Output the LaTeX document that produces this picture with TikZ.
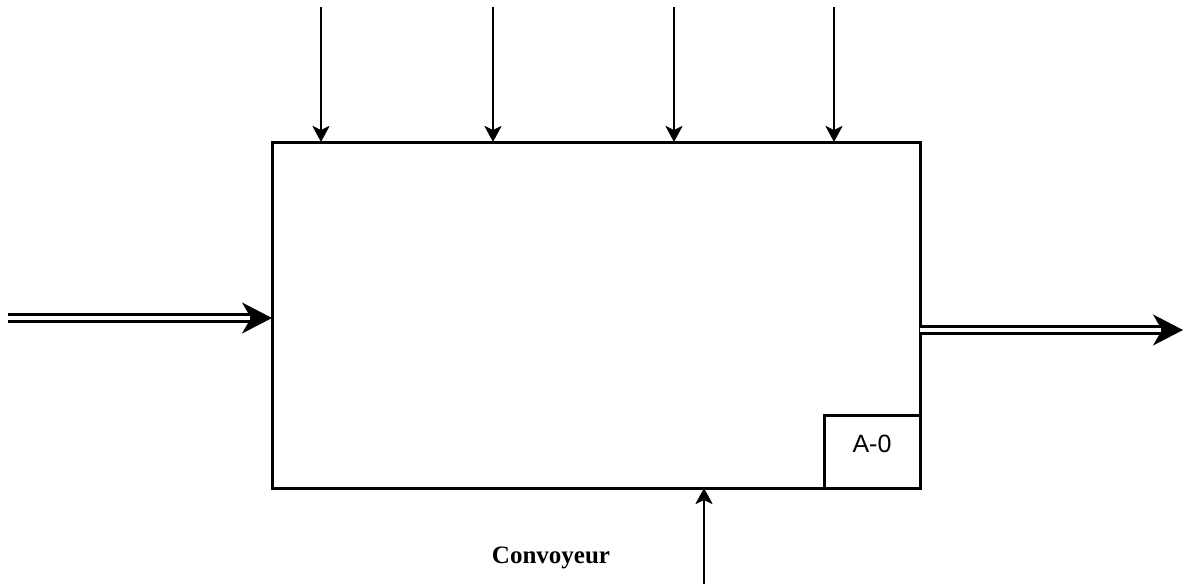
\documentclass[tikz,border=0pt]{standalone}
\usepackage{fontspec}
\setmainfont{Liberation Serif}
\newfontfamily\arialfont{Liberation Sans}
\usetikzlibrary{arrows.meta,calc}
\tikzset{
  mainbox/.style={draw, line width=3pt, inner sep=0pt, outer sep=0pt},
  ctrl/.style={line width=2.6pt, -{Stealth[length=16pt,width=17pt,inset=4pt]}},
  flowline/.style={double, double distance=3.2pt, line width=3pt},
  flowtip/.style={line width=2pt, -{Stealth[length=30pt,width=31pt,inset=9pt]}},
  label/.style={inner sep=0pt}
}
\begin{document}
\begin{tikzpicture}[x=1pt,y=-1pt]
\useasboundingbox (0,0) rectangle (1184,584);
% main activity box
\node[mainbox, minimum width=648pt, minimum height=346pt] (A) at (596,315) {};
% A-0 corner box
\node[mainbox, minimum width=96pt, minimum height=73pt] (id) at (872,451.5) {};
\node[label, anchor=base, font=\arialfont\fontsize{25}{28}\selectfont] (idtxt) at (872,452) {A-0};
% control arrows from the top
\foreach \i/\x in {1/321,2/493,3/674,4/834}{
  \coordinate (t\i) at (\x,7);
  \draw[ctrl] (t\i) -- (t\i |- A.north);
}
% input (double) arrow
\coordinate (in) at (8,318);
\coordinate (inend) at (A.west |- in);
\draw[flowline] (in) -- ($(inend)+(-18,0)$);
\draw[flowtip] ($(inend)+(-22,0)$) -- (inend);
% output (double) arrow
\coordinate (outst) at (A.east |- 0,330);
\coordinate (out) at (1183,330);
\draw[flowline] (outst) -- ($(out)+(-18,0)$);
\draw[flowtip] ($(out)+(-22,0)$) -- (out);
% mechanism arrow from below
\coordinate (mech) at (704,584);
\draw[ctrl] (mech) -- (mech |- A.south);
\node[label, anchor=base, font=\bfseries\fontsize{25}{28}\selectfont] (conv) at (551,563) {Convoyeur};
\end{tikzpicture}
\end{document}
